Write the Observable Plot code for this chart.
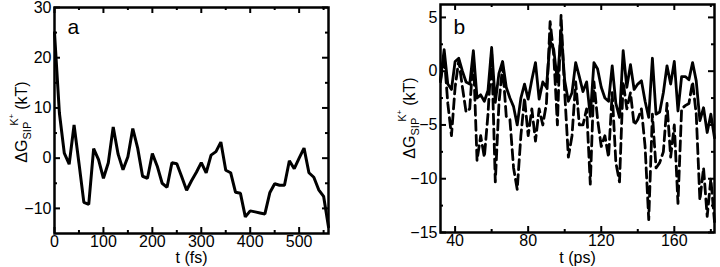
<!DOCTYPE html>
<html><head><meta charset="utf-8">
<script src="https://cdn.jsdelivr.net/npm/d3@7"></script>
<script src="https://cdn.jsdelivr.net/npm/@observablehq/plot@0.6"></script>
<style>
body{margin:0;background:#fff;}
#wrap{display:flex;width:720px;height:267px;overflow:hidden;}
#wrap svg{font-family:"Liberation Sans",Arial,Helvetica,sans-serif;background:#fff;}
</style></head><body><div id="wrap"></div>
<script>
// ---- Panel a data (t in fs) ----
const tA = [0,10,20,30,40,50,60,70,80,90,100,110,120,130,140,150,160,170,180,190,200,210,220,230,240,250,260,270,280,290,300,310,320,330,340,350,360,370,380,390,400,410,420,430,440,450,460,470,480,490,500,510,520,530,540,550,560];
const gA = [25,9,1,-1.2,6.6,-1,-8.8,-9.2,1.9,-0.3,-4,-0.9,6.2,0.8,-2.3,0.3,5.9,2,-3.6,-4,0.9,-1.6,-5,-5.8,-0.9,-1.1,-3.7,-6.4,-4.5,-2.8,-0.9,-2.9,0.6,1.3,3.2,-2.4,-2.9,-6.8,-7,-11.7,-10.5,-10.7,-10.9,-11.1,-6.9,-5.1,-5.4,-5.4,-0.5,-2.1,0,2,-2.9,-3.8,-6.3,-7.6,-13.7];

// ---- Panel b data (t in ps) ----
const tB = [32,34,36,38,40,42,44,46,48,50,52,54,56,58,60,62,64,66,68,70,72,74,76,78,80,82,84,86,88,90,92,94,96,98,100,102,104,106,108,110,112,114,116,118,120,122,124,126,128,130,132,134,136,138,140,142,144,146,148,150,152,154,156,158,160,162,164,166,168,170,172,174,176,178,180,182];
const solidB = [-0.8,2.0,-1.2,-1.7,0.9,1.2,0.0,-1.0,-1.2,1.9,-2.5,-2.2,-2.8,-1.8,2.2,-2.9,-0.2,0.9,-1.5,-2.5,-3.3,-5.0,-2.5,-1.2,-2.6,-0.8,0.8,-2.6,-1.0,-1.5,2.8,2.0,-1.0,3.7,-0.9,-2.8,-2.0,0.8,-0.5,-1.9,-1.0,-4.2,0.8,0.2,-1.5,-2.5,-2.8,0.5,-3.0,-4.3,1.9,-1.5,0.6,-1.7,-1.2,-0.9,-2.8,-4.3,1.2,-4.0,-3.8,-2.0,0.5,-1.2,0.9,-3.7,-0.5,-0.5,-0.8,0.8,-0.9,-4.6,-3.4,-5.7,-4.0,-6.2];
const dashedB = [-1.0,1.5,-3.0,-6.0,-1.5,1.0,-1.5,-3.8,-3.5,1.5,-8.3,-6.0,-8.0,-4.0,1.8,-10.3,-3.0,0.5,-4.2,-4.5,-9.0,-11.0,-6.0,-2.5,-6.0,-3.5,-6.5,-3.5,-5.0,-3.0,4.6,1.5,-5.0,5.2,-2.0,-8.0,-6.0,-1.0,-5.0,-5.0,-3.5,-10.5,-1.0,-4.5,-7.0,-6.0,-8.0,-2.0,-8.5,-10.3,-1.0,-3.5,-2.0,-5.0,-4.5,-3.5,-7.0,-13.8,-4.0,-9.0,-8.5,-7.5,-3.0,-8.0,-5.0,-12.3,-3.5,-3.2,-3.0,-1.0,-4.0,-12.0,-9.0,-13.5,-10.0,-14.0];

// ---- ticks ----
const xTicksA = [0,100,200,300,400,500];
const xMinorA = [50,150,250,350,450,550];
const yTicksA = [30,20,10,0,-10];
const yMinorA = [25,15,5,-5];
const xTicksB = [40,80,120,160];
const xMinorB = [60,100,140,180];
const yTicksB = [5,0,-5,-10,-15];
const yMinorB = [2.5,-2.5,-7.5,-12.5];

const FONT = '"Liberation Sans",Arial,Helvetica,sans-serif';
const FS = 16;

function inwardTicks(xT, xM, yT, yM, W, H) {
  const maj = 6, mn = 3, sw = 2;
  return [
    Plot.tickX(xT, {x: d => d, insetTop: H - maj, strokeWidth: sw}),
    Plot.tickX(xT, {x: d => d, insetBottom: H - maj, strokeWidth: sw}),
    Plot.tickX(xM, {x: d => d, insetTop: H - mn, strokeWidth: sw}),
    Plot.tickX(xM, {x: d => d, insetBottom: H - mn, strokeWidth: sw}),
    Plot.tickY(yT, {y: d => d, insetRight: W - maj, strokeWidth: sw}),
    Plot.tickY(yT, {y: d => d, insetLeft: W - maj, strokeWidth: sw}),
    Plot.tickY(yM, {y: d => d, insetRight: W - mn, strokeWidth: sw}),
    Plot.tickY(yM, {y: d => d, insetLeft: W - mn, strokeWidth: sw})
  ];
}

function addYLabel(svg, x, y) {
  const t = d3.select(svg).append("text")
    .attr("transform", `translate(${x},${y}) rotate(-90)`)
    .attr("text-anchor", "middle")
    .attr("font-family", FONT)
    .attr("font-size", FS)
    .attr("fill", "#000");
  t.append("tspan").text("\u0394G");
  t.append("tspan").attr("font-size", 11).attr("dy", 4).text("SIP");
  t.append("tspan").attr("font-size", 11).attr("dy", -13).attr("dx", -4).text("K");
  t.append("tspan").attr("font-size", 8).attr("dy", -4).text("+");
  t.append("tspan").attr("dy", 13).attr("dx", 4).text("(kT)");
}

// Panel a
{
  const width = 360, height = 267, ml = 54, mr = 32, mt = 7, mb = 34;
  const W = width - ml - mr, H = height - mt - mb;
  const dataA = tA.map((t, i) => ({t, g: gA[i]}));
  const svg = Plot.plot({
    width, height, marginLeft: ml, marginRight: mr, marginTop: mt, marginBottom: mb,
    style: {fontFamily: FONT, fontSize: FS + "px", color: "#000", background: "#fff", overflow: "visible"},
    x: {domain: [0, 560]},
    y: {domain: [-15, 30]},
    marks: [
      Plot.axisX({ticks: xTicksA, tickSize: 0, tickPadding: 2, label: null, fontSize: FS}),
      Plot.axisY({ticks: yTicksA, tickSize: 0, tickPadding: 3, label: null, fontSize: FS}),
      Plot.line(dataA, {x: "t", y: "g", stroke: "#000", strokeWidth: 3, strokeLinejoin: "miter"}),
      ...inwardTicks(xTicksA, xMinorA, yTicksA, yMinorA, W, H),
      Plot.frame({stroke: "#000", strokeWidth: 2.5}),
      Plot.text(["a"], {frameAnchor: "top-left", dx: 13, dy: 26, lineAnchor: "bottom", textAnchor: "start", fontSize: 21, text: d => d}),
      Plot.text(["t (fs)"], {frameAnchor: "bottom", dy: 29, lineAnchor: "bottom", fontSize: FS, text: d => d})
    ]
  });
  addYLabel(svg, 27, 122);
  document.getElementById("wrap").appendChild(svg);
}

// Panel b
{
  const width = 360, height = 267, ml = 80, mr = 6, mt = 4, mb = 35;
  const W = width - ml - mr, H = height - mt - mb;
  const solid = tB.map((t, i) => ({t, g: solidB[i]}));
  const dashed = tB.map((t, i) => ({t, g: dashedB[i]}));
  const svg = Plot.plot({
    width, height, marginLeft: ml, marginRight: mr, marginTop: mt, marginBottom: mb,
    style: {fontFamily: FONT, fontSize: FS + "px", color: "#000", background: "#fff", overflow: "visible"},
    x: {domain: [32, 182]},
    y: {domain: [-15, 6.2]},
    marks: [
      Plot.axisX({ticks: xTicksB, tickSize: 0, tickPadding: 2, label: null, fontSize: FS}),
      Plot.axisY({ticks: yTicksB, tickSize: 0, tickPadding: 3, label: null, fontSize: FS}),
      Plot.line(dashed, {x: "t", y: "g", stroke: "#000", strokeWidth: 2.8, strokeDasharray: "10,5"}),
      Plot.line(solid, {x: "t", y: "g", stroke: "#000", strokeWidth: 2.8}),
      ...inwardTicks(xTicksB, xMinorB, yTicksB, yMinorB, W, H),
      Plot.frame({stroke: "#000", strokeWidth: 2.5}),
      Plot.text(["b"], {frameAnchor: "top-left", dx: 13, dy: 29, lineAnchor: "bottom", textAnchor: "start", fontSize: 21, text: d => d}),
      Plot.text(["t (ps)"], {frameAnchor: "bottom", dy: 30, lineAnchor: "bottom", fontSize: FS, text: d => d})
    ]
  });
  addYLabel(svg, 55, 118);
  document.getElementById("wrap").appendChild(svg);
}
</script>
</body></html>
